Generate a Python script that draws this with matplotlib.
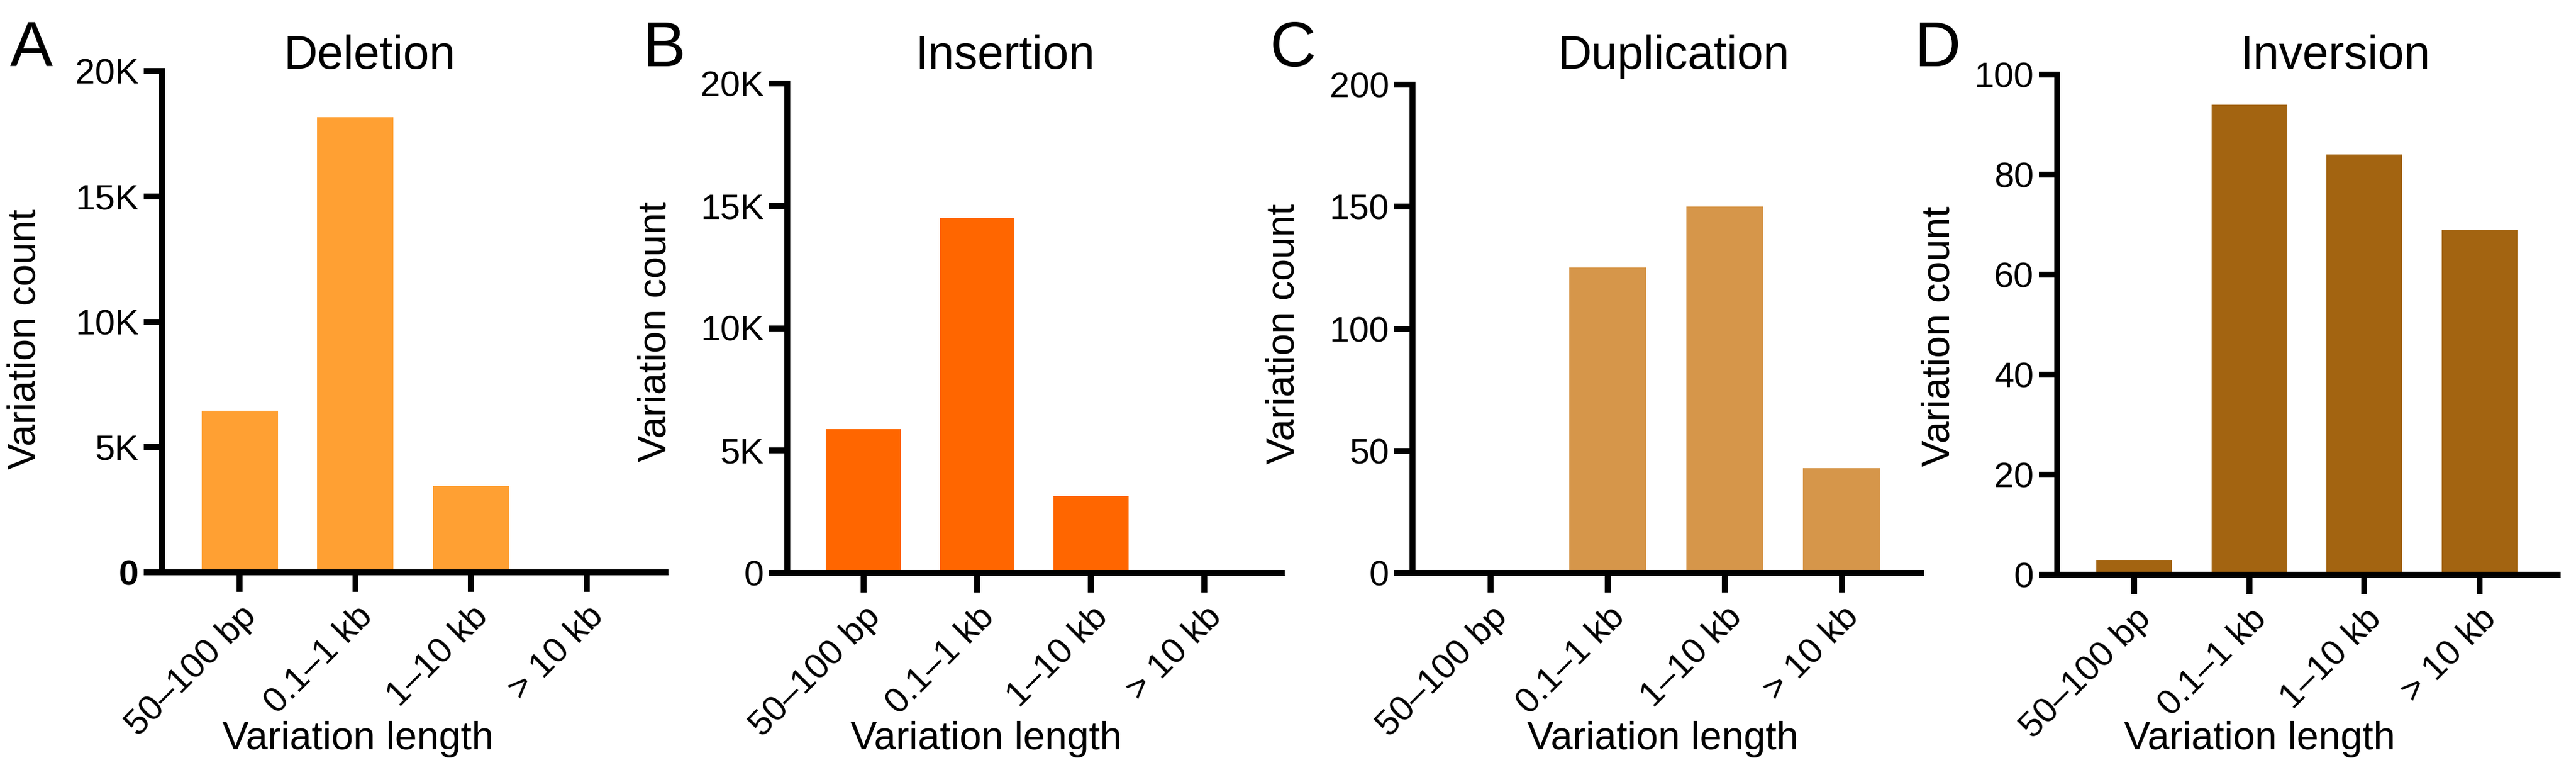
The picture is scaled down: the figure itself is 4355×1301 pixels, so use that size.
"""
plot.py — Structural variant counts by length class (four panels).
"""

import matplotlib
matplotlib.use("Agg")
import matplotlib.pyplot as plt
from matplotlib.ticker import FixedLocator, FixedFormatter

plt.rcParams["font.family"] = ["Liberation Sans", "DejaVu Sans"]

W_PX, H_PX, DPI = 4355, 1301, 300

length_classes = ["50\u2013100 bp", "0.1\u20131 kb", "1\u201310 kb", "> 10 kb"]

panel_letters = ["A", "B", "C", "D"]
sv_types = ["Deletion", "Insertion", "Duplication", "Inversion"]

deletion_counts = [6450, 18150, 3450, 0]
insertion_counts = [5880, 14500, 3150, 0]
duplication_counts = [0, 125, 150, 43]
inversion_counts = [3, 94, 84, 69]

kilo_ticks = [0, 5000, 10000, 15000, 20000]
kilo_labels = ["0", "5K", "10K", "15K", "20K"]
dup_ticks = [0, 50, 100, 150, 200]
inv_ticks = [0, 20, 40, 60, 80, 100]

colors = ["#FFA033", "#FF6600", "#D6964A", "#A36411"]

# axes boxes in pixels: left, top, right, bottom
boxes = [
    (274, 120, 1125, 967),
    (1331, 141, 2167, 968),
    (2388, 143, 3248, 968),
    (3478, 126, 4324, 971),
]
letter_x = [17, 1086, 2146, 3236]
title_x = [625, 1700, 2829, 3948]
ylabel_x = [74, 1139, 2201, 3310]
ylabel_y = [573, 560, 564, 568]
xlabel_x = [605, 1667, 2811, 3820]

TICK_FS = 14.5
LABEL_FS = 16
TITLE_FS = 19
LETTER_FS = 26

panels = [
    (deletion_counts, kilo_ticks, kilo_labels),
    (insertion_counts, kilo_ticks, kilo_labels),
    (duplication_counts, dup_ticks, [str(t) for t in dup_ticks]),
    (inversion_counts, inv_ticks, [str(t) for t in inv_ticks]),
]

fig = plt.figure(figsize=(W_PX / DPI, H_PX / DPI), dpi=DPI)

for i, (counts, yt, yl) in enumerate(panels):
    l, t, r, b = boxes[i]
    ax = fig.add_axes([l / W_PX, 1 - b / H_PX, (r - l) / W_PX, (b - t) / H_PX])
    x = range(len(length_classes))
    ax.bar(x, counts, width=0.66, color=colors[i], edgecolor="none", zorder=1)

    ax.set_xlim(-0.67, 3.68)
    ax.set_ylim(yt[0], yt[-1])
    ax.yaxis.set_major_locator(FixedLocator(yt))
    ax.yaxis.set_major_formatter(FixedFormatter(yl))
    ax.set_xticks(list(x))
    ax.set_xticklabels(length_classes, rotation=45, ha="right", va="top",
                       rotation_mode="anchor", fontsize=TICK_FS)

    for side in ("top", "right"):
        ax.spines[side].set_visible(False)
    for side in ("left", "bottom"):
        ax.spines[side].set_linewidth(2.4)
        ax.spines[side].set_capstyle("projecting")
    ax.tick_params(axis="y", length=7.5, width=2.4, labelsize=TICK_FS, pad=2)
    ax.tick_params(axis="x", length=8, width=2.4, pad=3)
    if i == 0:
        ax.get_yticklabels()[0].set_fontweight("bold")

    ax.set_ylabel("Variation count", fontsize=LABEL_FS)
    ax.yaxis.set_label_coords((ylabel_x[i] - l) / (r - l), (b - ylabel_y[i]) / (b - t))
    ax.set_xlabel("Variation length", fontsize=LABEL_FS)
    ax.xaxis.set_label_coords((xlabel_x[i] - l) / (r - l), -(1266 - b) / (b - t))
    ax.xaxis.label.set_va("baseline")

    fig.text(title_x[i] / W_PX, 1 - 116 / H_PX, sv_types[i], fontsize=TITLE_FS,
             ha="center", va="baseline")
    fig.text(letter_x[i] / W_PX, 1 - 112 / H_PX, panel_letters[i], fontsize=LETTER_FS,
             ha="left", va="baseline")

fig.savefig("out.png", dpi=DPI)
plt.close(fig)
